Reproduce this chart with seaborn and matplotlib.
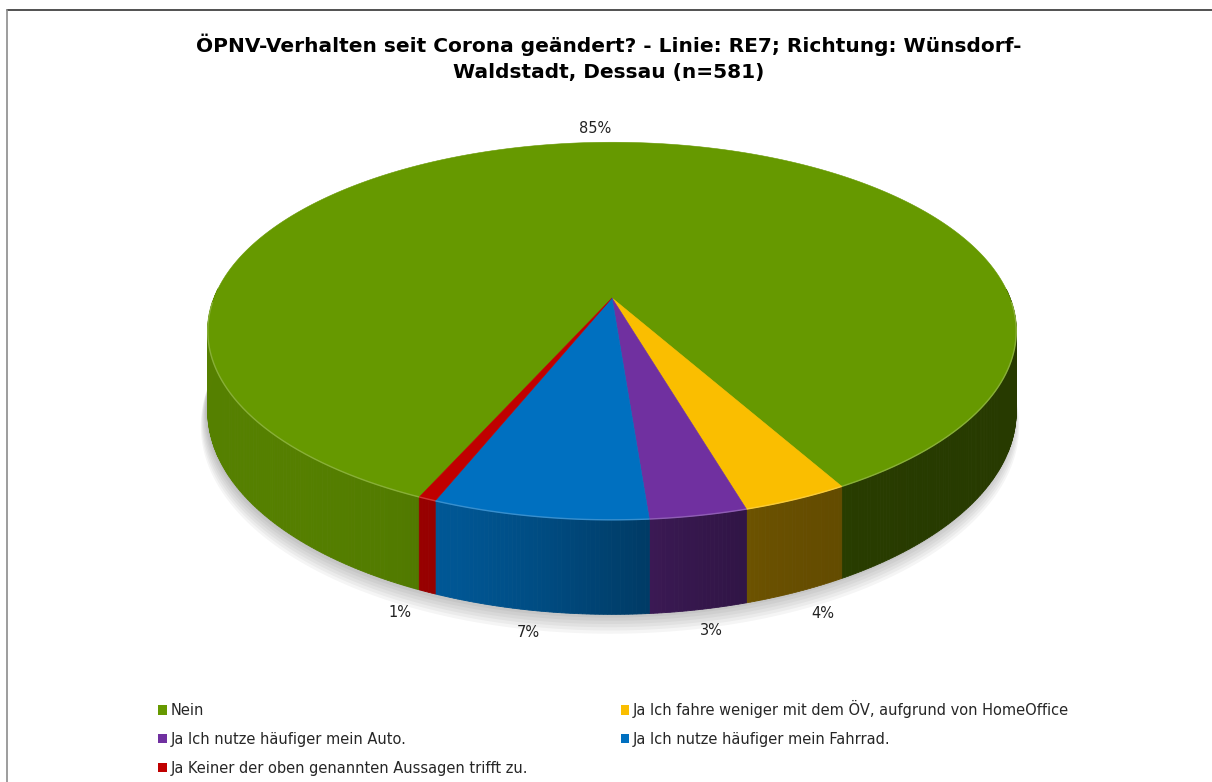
import numpy as np
import matplotlib
matplotlib.use("Agg")
import matplotlib.pyplot as plt
import seaborn as sns
from matplotlib.patches import Polygon, Patch
from matplotlib.lines import Line2D
from matplotlib.colors import to_rgb

# ---------------- data ----------------
title = "ÖPNV-Verhalten seit Corona geändert? - Linie: RE7; Richtung: Wünsdorf-\nWaldstadt, Dessau (n=581)"
categories = [
    "Nein",
    "Ja Ich fahre weniger mit dem ÖV, aufgrund von HomeOffice",
    "Ja Ich nutze häufiger mein Auto.",
    "Ja Ich nutze häufiger mein Fahrrad.",
    "Ja Keiner der oben genannten Aussagen trifft zu.",
]
values = [85.2, 3.6, 3.3, 7.3, 0.6]   # percent (estimated; labels show rounded values)
colors = ["#669900", "#FABE00", "#7030A0", "#0070C0", "#C00000"]

# ---------------- style ----------------
sns.set_theme(style="white")
plt.rcParams["font.family"] = ["DejaVu Sans"]
palette = sns.color_palette(colors)

W, H = 1212, 782
fig = plt.figure(figsize=(W / 100, H / 100), dpi=100)
ax = fig.add_axes([0, 0, 1, 1])
ax.set_xlim(0, W)
ax.set_ylim(H, 0)
ax.set_axis_off()

# 3D pie projection parameters (layout)
CX, CY = 612, 298
A, B, P, T = 398, 183, 0.175, 78
START = 246  # degrees, slices run clockwise


def proj(theta_deg, r=1.0, d=0.0):
    th = np.radians(theta_deg)
    X = r * np.cos(th)
    Yp = -r * np.sin(th)
    den = 1 - P * Yp
    return CX + A * X / den, CY + (B * Yp + T * d) / den


def shade(col, f):
    c = np.array(to_rgb(col)) * f
    return tuple(np.clip(c, 0, 1))


def tint(col, f):
    c = np.array(to_rgb(col))
    return tuple(c + (1 - c) * f)


total = float(sum(values))
bounds = []
a0 = START
for v in values:
    a1 = a0 - 360 * v / total
    bounds.append((a0, a1))
    a0 = a1

# soft shadow beneath the pie
full = np.linspace(0, 360, 361)
for k in range(7):
    xs, ys = proj(full, r=1.0 + 0.002 * k, d=1.0 + 0.028 * k)
    ax.add_patch(Polygon(np.column_stack([xs - 2, ys]), closed=True,
                         facecolor="#000000", edgecolor="none", alpha=0.04, zorder=0))

# side walls
for (s, e), col in zip(bounds, palette):
    angs = np.linspace(s, e, int(abs(s - e) * 2) + 2)
    for t0, t1 in zip(angs[:-1], angs[1:]):
        if np.sin(np.radians((t0 + t1) / 2)) > 0.05:
            continue
        xa, ya = proj(np.array([t0, t1]))
        xb, yb = proj(np.array([t1, t0]), d=1.0)
        cm = np.cos(np.radians((t0 + t1) / 2))
        f = 0.61 - 0.23 * np.tanh(3 * (cm + 0.05))
        c = shade(col, f)
        ax.add_patch(Polygon(np.column_stack([np.r_[xa, xb], np.r_[ya, yb]]),
                             closed=True, facecolor=c, edgecolor=c, lw=0.6, zorder=1))

# top faces
for (s, e), col in zip(bounds, palette):
    angs = np.linspace(s, e, int(abs(s - e) * 2) + 2)
    xs, ys = proj(angs)
    pts = np.vstack([[CX, CY], np.column_stack([xs, ys])])
    ax.add_patch(Polygon(pts, closed=True, facecolor=col, edgecolor=col, lw=0.4, zorder=2))

# light bevel along the front rim (only where the rim faces the viewer)
for (s, e), col in zip(bounds, palette):
    angs = np.linspace(s, e, int(abs(s - e) * 4) + 2)
    xs, ys = proj(angs)
    ys = np.where(np.sin(np.radians(angs)) < -0.02, ys, np.nan)
    ax.plot(xs, ys, color=tint(col, 0.22), lw=1.0, zorder=2.5, solid_capstyle="butt")

# value labels
for (s, e), v in zip(bounds, values):
    m = (s + e) / 2
    x, _ = proj(m, r=1.12)
    if np.sin(np.radians(m)) > 0:
        _, yt = proj(m)
        y = yt - 14
    else:
        _, yb = proj(m, d=1.0)
        y = yb + 21
    ax.text(x, y, f"{round(v)}%", ha="center", va="center", fontsize=10.5,
            color="#222222", zorder=3)

# title
fig.text(0.502, 1 - 58 / H, title, ha="center", va="center", fontsize=14.5,
         fontweight="bold", linespacing=1.45, color="#000000")

# legend (row-major order like the reference)
handles = [Patch(facecolor=c, edgecolor="none") for c in palette]
order = [0, 2, 4, 1, 3]
fig.legend([handles[i] for i in order], [categories[i] for i in order],
           loc="upper left", bbox_to_anchor=(158 / W, 1 - 700 / H), ncol=2,
           frameon=False, fontsize=10.5, handlelength=0.6, handleheight=0.6,
           handletextpad=0.25, columnspacing=6.35, labelspacing=0.95, borderpad=0,
           borderaxespad=0)

# chart border (top and left edges visible in the reference)
fig.add_artist(Line2D([7 / W, 1], [1 - 10 / H, 1 - 10 / H], transform=fig.transFigure,
                      color="#333333", lw=1.2))
fig.add_artist(Line2D([7 / W, 7 / W], [0, 1 - 10 / H], transform=fig.transFigure,
                      color="#8C8C8C", lw=1.2))

fig.savefig("out.png", dpi=100)
